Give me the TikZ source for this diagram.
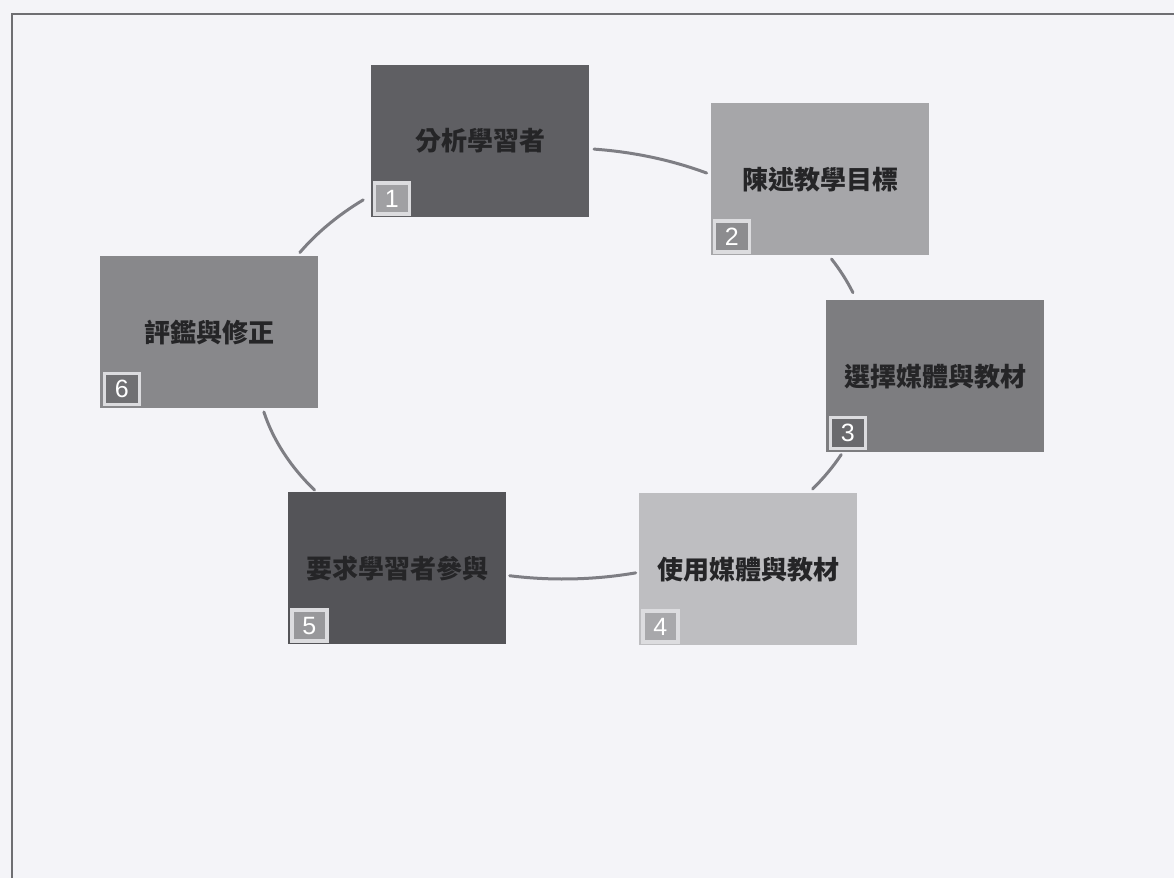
\documentclass[tikz,border=0pt]{standalone}
\usepackage{fontspec}
\newfontfamily\cjk{Noto Sans CJK TC}
\newfontfamily\numfont{Liberation Sans}
\definecolor{bgc}{HTML}{F4F4F8}
\definecolor{framec}{HTML}{6E6E72}
\definecolor{connc}{HTML}{7E7E84}
\definecolor{textc}{HTML}{252527}
\definecolor{badgeedge}{HTML}{DCDCDF}
\definecolor{boxa}{HTML}{5F5F63}
\definecolor{boxb}{HTML}{A6A6A9}
\definecolor{boxc}{HTML}{7D7D80}
\definecolor{boxd}{HTML}{BEBEC1}
\definecolor{boxe}{HTML}{545458}
\definecolor{boxf}{HTML}{88888B}
\definecolor{bada}{HTML}{A0A0A3}
\definecolor{badb}{HTML}{8C8C8F}
\definecolor{badc}{HTML}{6A6A6D}
\definecolor{badd}{HTML}{A8A8AB}
\definecolor{bade}{HTML}{98989B}
\definecolor{badf}{HTML}{707073}
\begin{document}
\begin{tikzpicture}[x=1pt,y=-1pt,
  stepbox/.style={anchor=north west, minimum width=218pt, minimum height=152pt,
    inner sep=0pt, font=\cjk\bfseries\fontsize{26}{29}\selectfont, text=textc},
  badge/.style={anchor=south west, minimum width=35pt, minimum height=31pt,
    inner sep=0pt, draw=badgeedge, line width=3.5pt,
    font=\numfont\fontsize{25}{27}\selectfont, text=white},
  conn/.style={draw=connc, line width=3pt, line cap=round},
  framel/.style={draw=framec, line width=2.5pt}]
\useasboundingbox (0,0) rectangle (1174,878);
\fill[bgc] (0,0) rectangle (1174,878);
\coordinate (fl) at (12,878);
\coordinate (ftl) at (12,14);
\coordinate (ftr) at (1174,14);
\draw[framel] (fl) -- (ftl) -- (ftr);

\node[stepbox, fill=boxa] (n1) at (371,65) {分析學習者};
\node[stepbox, fill=boxb] (n2) at (711,103) {陳述教學目標};
\node[stepbox, fill=boxc] (n3) at (826,300) {選擇媒體與教材};
\node[stepbox, fill=boxd] (n4) at (639,493) {使用媒體與教材};
\node[stepbox, fill=boxe] (n5) at (288,492) {要求學習者參與};
\node[stepbox, fill=boxf] (n6) at (100,256) {評鑑與修正};

\node[badge, fill=bada] (b1) at ([shift={(1.5,-1.5)}]n1.south west) {1};
\node[badge, fill=badb] (b2) at ([shift={(1.5,-1.5)}]n2.south west) {2};
\node[badge, fill=badc] (b3) at ([shift={(2.5,-2)}]n3.south west) {3};
\node[badge, fill=badd] (b4) at ([shift={(2,-1.5)}]n4.south west) {4};
\node[badge, fill=bade] (b5) at ([shift={(2,-1.5)}]n5.south west) {5};
\node[badge, fill=badf] (b6) at ([shift={(2.5,-2)}]n6.south west) {6};

\coordinate (c) at (563,363.5);
\draw[conn] ([shift={(84.2:307pt and 215.5pt)}]c) arc[start angle=84.2, end angle=62.1, x radius=307pt, y radius=215.5pt];
\draw[conn] ([shift={(29:307pt and 215.5pt)}]c) arc[start angle=29, end angle=19.2, x radius=307pt, y radius=215.5pt];
\draw[conn] ([shift={(-25:307pt and 215.5pt)}]c) arc[start angle=-25, end angle=-35.6, x radius=307pt, y radius=215.5pt];
\draw[conn] ([shift={(-76.3:307pt and 215.5pt)}]c) arc[start angle=-76.3, end angle=-100, x radius=307pt, y radius=215.5pt];
\draw[conn] ([shift={(-144:307pt and 215.5pt)}]c) arc[start angle=-144, end angle=-167, x radius=307pt, y radius=215.5pt];
\draw[conn] ([shift={(149:307pt and 215.5pt)}]c) arc[start angle=149, end angle=130.6, x radius=307pt, y radius=215.5pt];
\end{tikzpicture}
\end{document}
